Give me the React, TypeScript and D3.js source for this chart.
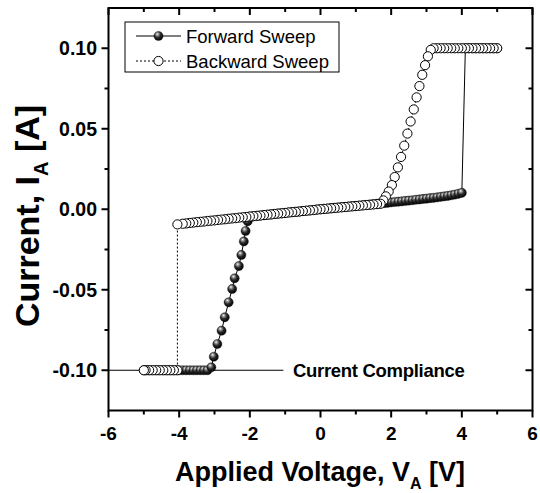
import React from 'react';
import * as d3 from 'd3';

const W = 540;
const H = 493;

const xTicks = [-6, -4, -2, 0, 2, 4, 6];
const xTickLabels = ['-6', '-4', '-2', '0', '2', '4', '6'];
const xMinor = [-5, -3, -1, 1, 3, 5];
const yTicks = [-0.1, -0.05, 0, 0.05, 0.1];
const yTickLabels = ['-0.10', '-0.05', '0.00', '0.05', '0.10'];
const yMinor = [-0.075, -0.025, 0.025, 0.075];

const seriesNames = ['Forward Sweep', 'Backward Sweep'];
const complianceLabel = 'Current Compliance';
const complianceLevel = -0.1;
const complianceEndV = -1.05;

// Forward sweep (filled spheres): -5 V -> +5 V
const fwdV = [
  -5.0, -4.9, -4.8, -4.7, -4.6, -4.5, -4.4, -4.3, -4.2, -4.1, -4.0, -3.9, -3.8, -3.7, -3.6, -3.5, -3.4, -3.3, -3.2,
  -3.09, -3.02, -2.92, -2.80, -2.71, -2.60, -2.50, -2.43, -2.31, -2.24, -2.17, -2.12, -2.06,
  -2.0, -1.9, -1.8, -1.7, -1.6, -1.5, -1.4, -1.3, -1.2, -1.1, -1.0, -0.9, -0.8, -0.7, -0.6, -0.5, -0.4, -0.3, -0.2, -0.1,
  0.0, 0.1, 0.2, 0.3, 0.4, 0.5, 0.6, 0.7, 0.8, 0.9, 1.0, 1.1, 1.2, 1.3, 1.4, 1.5, 1.6, 1.7, 1.8, 1.9,
  2.0, 2.1, 2.2, 2.3, 2.4, 2.5, 2.6, 2.7, 2.8, 2.9, 3.0, 3.1, 3.2, 3.3, 3.4, 3.5, 3.6, 3.7, 3.8, 3.9, 4.0,
  4.1, 4.2, 4.3, 4.4, 4.5, 4.6, 4.7, 4.8, 4.9, 5.0,
];
const fwdI = [
  -0.1, -0.1, -0.1, -0.1, -0.1, -0.1, -0.1, -0.1, -0.1, -0.1, -0.1, -0.1, -0.1, -0.1, -0.1, -0.1, -0.1, -0.1, -0.1,
  -0.0982, -0.0916, -0.0837, -0.0754, -0.0671, -0.0578, -0.0495, -0.0429, -0.0353, -0.0284, -0.0200, -0.0135, -0.0075,
  -0.0046, -0.0044, -0.0041, -0.0039, -0.0037, -0.0034, -0.0032, -0.0030, -0.0027, -0.0025, -0.0023, -0.0020, -0.0018, -0.0016, -0.0014, -0.0011, -0.0009, -0.0007, -0.0005, -0.0002,
  0.0, 0.0002, 0.0004, 0.0007, 0.0009, 0.0011, 0.0013, 0.0015, 0.0017, 0.0019, 0.0021, 0.0023, 0.0025, 0.0027, 0.0029, 0.0032, 0.0034, 0.0036, 0.0038, 0.0040,
  0.0043, 0.0045, 0.0047, 0.0049, 0.0052, 0.0054, 0.0056, 0.0059, 0.0061, 0.0064, 0.0066, 0.0069, 0.0071, 0.0074, 0.0077, 0.0080, 0.0083, 0.0087, 0.0091, 0.0096, 0.0102,
  0.1, 0.1, 0.1, 0.1, 0.1, 0.1, 0.1, 0.1, 0.1, 0.1,
];

// Backward sweep (open circles): +5 V -> -5 V
const bwdV = [
  5.0, 4.9, 4.8, 4.7, 4.6, 4.5, 4.4, 4.3, 4.2, 4.1, 4.0, 3.9, 3.8, 3.7, 3.6, 3.5, 3.4, 3.3, 3.2,
  3.12, 3.04, 2.96, 2.88, 2.80, 2.72, 2.64, 2.55, 2.46, 2.37, 2.28, 2.19, 2.10, 2.02, 1.93, 1.85, 1.78,
  1.7, 1.6, 1.5, 1.4, 1.3, 1.2, 1.1, 1.0, 0.9, 0.8, 0.7, 0.6, 0.5, 0.4, 0.3, 0.2, 0.1, 0.0,
  -0.1, -0.2, -0.3, -0.4, -0.5, -0.6, -0.7, -0.8, -0.9, -1.0, -1.1, -1.2, -1.3, -1.4, -1.5, -1.6, -1.7, -1.8, -1.9, -2.0,
  -2.1, -2.2, -2.3, -2.4, -2.5, -2.6, -2.7, -2.8, -2.9, -3.0, -3.1, -3.2, -3.3, -3.4, -3.5, -3.6, -3.7, -3.8, -3.9, -4.05,
  -4.05, -4.15, -4.25, -4.35, -4.45, -4.55, -4.65, -4.75, -4.85, -4.95, -5.0,
];
const bwdI = [
  0.1, 0.1, 0.1, 0.1, 0.1, 0.1, 0.1, 0.1, 0.1, 0.1, 0.1, 0.1, 0.1, 0.1, 0.1, 0.1, 0.1, 0.1, 0.1,
  0.0990, 0.0950, 0.0895, 0.0835, 0.0765, 0.0695, 0.0620, 0.0545, 0.0470, 0.0395, 0.0325, 0.0260, 0.0200, 0.0150, 0.0110, 0.0080, 0.0055,
  0.0034, 0.0032, 0.0030, 0.0028, 0.0026, 0.0024, 0.0022, 0.0020, 0.0018, 0.0016, 0.0014, 0.0012, 0.0010, 0.0008, 0.0006, 0.0004, 0.0002, 0.0,
  -0.0002, -0.0005, -0.0007, -0.0009, -0.0011, -0.0014, -0.0016, -0.0018, -0.0020, -0.0023, -0.0025, -0.0027, -0.0029, -0.0032, -0.0034, -0.0036, -0.0039, -0.0041, -0.0043, -0.0045,
  -0.0048, -0.0050, -0.0052, -0.0055, -0.0057, -0.0059, -0.0062, -0.0064, -0.0066, -0.0069, -0.0071, -0.0073, -0.0076, -0.0078, -0.0080, -0.0083, -0.0085, -0.0088, -0.0090, -0.0094,
  -0.1, -0.1, -0.1, -0.1, -0.1, -0.1, -0.1, -0.1, -0.1, -0.1, -0.1,
];

const FONT = '"Liberation Sans", Arial, Helvetica, sans-serif';

export default function App() {
  const left = 108.5, right = 532.5, top = 8, bottom = 410.5;
  const x = d3.scaleLinear().domain([-6, 6]).range([left, right]);
  const y = d3.scaleLinear().domain([-0.125, 0.125]).range([bottom, top]);
  const fwd = fwdV.map((v, i) => [v, fwdI[i]] as [number, number]);
  const bwd = bwdV.map((v, i) => [v, bwdI[i]] as [number, number]);
  const line = d3.line<[number, number]>().x(d => x(d[0])).y(d => y(d[1]));
  const r = 4.6;

  return (
    <svg width={W} height={H} style={{ position: 'absolute', left: 0, top: 0, display: 'block', background: '#fff' }} fontFamily={FONT}>
      <defs>
        <radialGradient id="sphere" cx="0.42" cy="0.38" r="0.62" fx="0.36" fy="0.28">
          <stop offset="0%" stopColor="#ffffff" />
          <stop offset="22%" stopColor="#9a9a9a" />
          <stop offset="55%" stopColor="#2a2a2a" />
          <stop offset="100%" stopColor="#000000" />
        </radialGradient>
        <clipPath id="plotclip">
          <rect x={left} y={top} width={right - left} height={bottom - top} />
        </clipPath>
      </defs>
      <rect x={0} y={0} width={W} height={H} fill="#fff" />

      {/* compliance line */}
      <line x1={x(-6)} x2={x(complianceEndV)} y1={y(complianceLevel)} y2={y(complianceLevel)} stroke="#000" strokeWidth={1} />
      <text x={293} y={y(complianceLevel) + 7} fontSize={18.5} fontWeight="bold" fill="#000" letterSpacing={-0.3}>{complianceLabel}</text>

      <g clipPath="url(#plotclip)">
        {/* forward sweep */}
        <path d={line(fwd) || ''} fill="none" stroke="#000" strokeWidth={1} />
        {fwd.map((d, i) => (
          <circle key={'f' + i} cx={x(d[0])} cy={y(d[1])} r={r} fill="url(#sphere)" stroke="#111" strokeWidth={0.4} />
        ))}
        {/* backward sweep */}
        <path d={line(bwd) || ''} fill="none" stroke="#000" strokeWidth={1} strokeDasharray="2,2" />
        {bwd.map((d, i) => (
          <circle key={'b' + i} cx={x(d[0])} cy={y(d[1])} r={r} fill="#fff" stroke="#000" strokeWidth={1} />
        ))}
      </g>

      {/* frame */}
      <rect x={left} y={top} width={right - left} height={bottom - top} fill="none" stroke="#000" strokeWidth={2} />

      {/* x ticks */}
      {xTicks.map(t => (
        <g key={'xt' + t}>
          <line x1={x(t)} x2={x(t)} y1={bottom} y2={bottom + 7} stroke="#000" strokeWidth={2} />
          <line x1={x(t)} x2={x(t)} y1={top} y2={top + 7} stroke="#000" strokeWidth={2} />
        </g>
      ))}
      {xMinor.map(t => (
        <g key={'xm' + t}>
          <line x1={x(t)} x2={x(t)} y1={bottom} y2={bottom + 4} stroke="#000" strokeWidth={2} />
          <line x1={x(t)} x2={x(t)} y1={top} y2={top + 4} stroke="#000" strokeWidth={2} />
        </g>
      ))}
      {xTicks.map((t, i) => (
        <text key={'xl' + t} x={x(t)} y={440} textAnchor="middle" fontSize={19} fontWeight="bold">{xTickLabels[i]}</text>
      ))}

      {/* y ticks */}
      {yTicks.map(t => (
        <g key={'yt' + t}>
          <line x1={left - 7} x2={left} y1={y(t)} y2={y(t)} stroke="#000" strokeWidth={2} />
          <line x1={right - 7} x2={right} y1={y(t)} y2={y(t)} stroke="#000" strokeWidth={2} />
        </g>
      ))}
      {yMinor.map(t => (
        <g key={'ym' + t}>
          <line x1={left - 4} x2={left} y1={y(t)} y2={y(t)} stroke="#000" strokeWidth={2} />
          <line x1={right - 4} x2={right} y1={y(t)} y2={y(t)} stroke="#000" strokeWidth={2} />
        </g>
      ))}
      {yTicks.map((t, i) => (
        <text key={'yl' + t} x={97} y={y(t) + 7} textAnchor="end" fontSize={19.5} fontWeight="bold">{yTickLabels[i]}</text>
      ))}

      {/* axis titles */}
      <text x={320} y={481} textAnchor="middle" fontSize={27} fontWeight="bold">
        Applied Voltage, V<tspan fontSize={16} dy={8}>A</tspan><tspan dy={-8}> [V]</tspan>
      </text>
      <text transform={`translate(39,${216})rotate(-90)`} textAnchor="middle" fontSize={34} fontWeight="bold">
        Current, I<tspan fontSize={20} dy={9}>A</tspan><tspan dy={-9}> [A]</tspan>
      </text>

      {/* legend */}
      <rect x={125} y={22} width={214} height={50} fill="#fff" stroke="#000" strokeWidth={1} />
      <line x1={136} x2={181} y1={36} y2={36} stroke="#000" strokeWidth={1} />
      <circle cx={158.5} cy={36} r={r} fill="url(#sphere)" stroke="#111" strokeWidth={0.4} />
      <text x={186} y={42.5} fontSize={18.5}>{seriesNames[0]}</text>
      <line x1={136} x2={181} y1={61} y2={61} stroke="#000" strokeWidth={1} strokeDasharray="2,2" />
      <circle cx={158.5} cy={61} r={r} fill="#fff" stroke="#000" strokeWidth={1} />
      <text x={186} y={67.5} fontSize={18.5}>{seriesNames[1]}</text>
    </svg>
  );
}
